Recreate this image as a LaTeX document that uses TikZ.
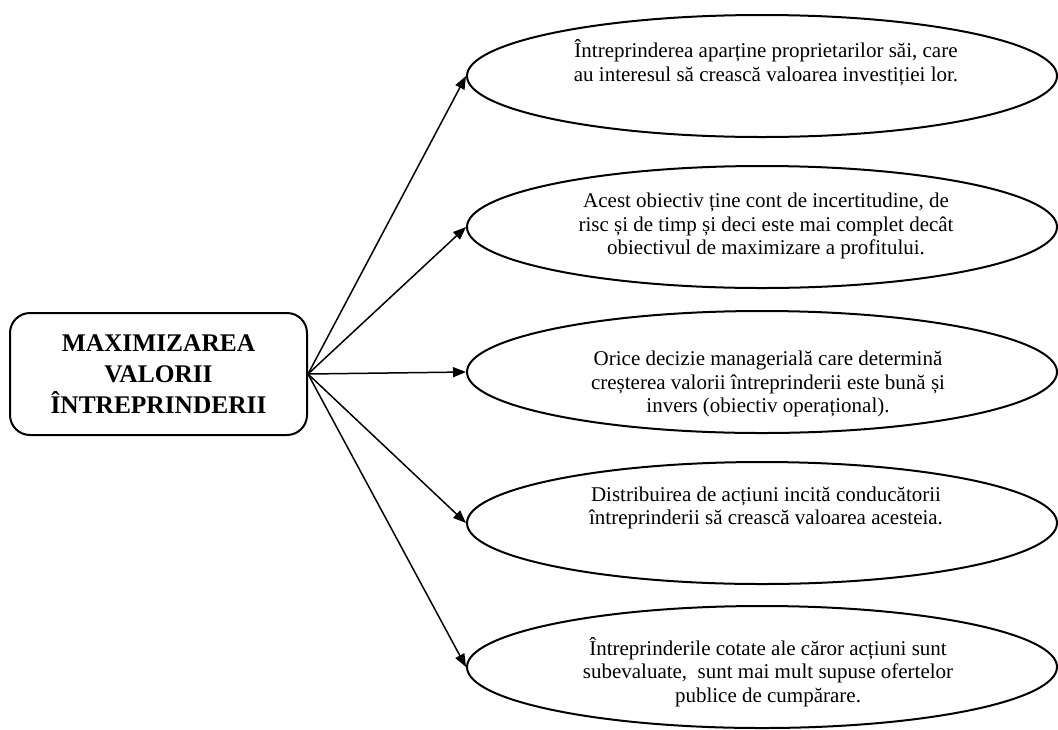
\documentclass[tikz,border=0pt]{standalone}
\usepackage{fontspec}
\setmainfont{Liberation Serif}
\usetikzlibrary{shapes.geometric,arrows.meta}
\tikzset{
  oval/.style={draw, line width=1pt, ellipse, minimum width=295pt, minimum height=61pt, inner sep=0pt},
  ovaltext/.style={align=center, inner sep=0pt, font=\fontsize{10.5}{11.8}\selectfont},
  titlebox/.style={draw, line width=1pt, rounded corners=10pt, minimum width=148.5pt, minimum height=61pt, align=center, font=\bfseries\fontsize{12.7}{15.5}\selectfont},
  arr/.style={line width=0.75pt, -{Triangle[length=6.5pt,width=5pt]}}
}
\begin{document}
\begin{tikzpicture}[x=0.5pt,y=-0.5pt]
\useasboundingbox (0,0) rectangle (1058,729);
\node[titlebox] (main) at (158.5,374) {MAXIMIZAREA\\VALORII\\ÎNTREPRINDERII};
\node[oval] (e1) at (762,76) {};
\node[oval] (e2) at (762,227) {};
\node[oval] (e3) at (762,372) {};
\node[oval] (e4) at (762,523) {};
\node[oval] (e5) at (762,667) {};
\node[ovaltext] (t1) at (766,63) {Întreprinderea aparține proprietarilor săi, care\\au interesul să crească valoarea investiției lor.};
\node[ovaltext] (t2) at (766,226) {Acest obiectiv ține cont de incertitudine, de\\risc și de timp și deci este mai complet decât\\obiectivul de maximizare a profitului.};
\node[ovaltext] (t3) at (768,384) {Orice decizie managerială care determină\\creșterea valorii întreprinderii este bună și\\invers (obiectiv operațional).};
\node[ovaltext] (t4) at (766,508) {Distribuirea de acțiuni incită conducătorii\\întreprinderii să crească valoarea acesteia.};
\node[ovaltext] (t5) at (768,672) {Întreprinderile cotate ale căror acțiuni sunt\\subevaluate,\ \ sunt mai mult supuse ofertelor\\publice de cumpărare.};
\foreach \i in {1,...,5} {\draw[arr] (main.east) -- (e\i.west);}
\end{tikzpicture}
\end{document}
